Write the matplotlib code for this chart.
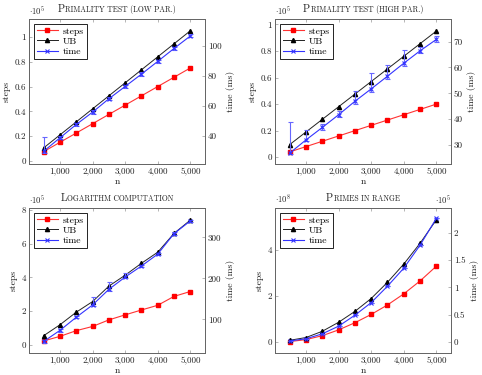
import matplotlib
matplotlib.use("Agg")
import matplotlib.pyplot as plt
from matplotlib.lines import Line2D
from matplotlib.offsetbox import TextArea, HPacker, AnchoredOffsetbox

plt.rcParams['font.family'] = 'cmr10'
plt.rcParams['mathtext.fontset'] = 'cm'
plt.rcParams['axes.formatter.use_mathtext'] = True

n = [500, 1000, 1500, 2000, 2500, 3000, 3500, 4000, 4500, 5000]
x_ticks = [1000, 2000, 3000, 4000, 5000]
x_tick_labels = ['1,000', '2,000', '3,000', '4,000', '5,000']

# primality test, low parallelism (steps/UB in 1e5, time in ms)
low_steps = [0.075, 0.15, 0.225, 0.30, 0.375, 0.45, 0.525, 0.60, 0.675, 0.75]
low_ub = [0.105, 0.21, 0.315, 0.42, 0.525, 0.63, 0.735, 0.84, 0.945, 1.05]
low_time = [30.0, 38.9, 47.8, 56.0, 64.9, 73.1, 81.3, 89.8, 98.4, 106.7]
low_err_lo = [1.0, 1.0, 1.0, 1.0, 1.0, 1.0, 1.0, 1.0, 1.2, 1.0]
low_err_hi = [9.3, 1.5, 1.0, 1.2, 1.0, 1.0, 1.5, 1.2, 1.2, 1.0]

# primality test, high parallelism (steps/UB in 1e5, time in ms)
high_steps = [0.04, 0.08, 0.12, 0.16, 0.20, 0.24, 0.28, 0.32, 0.36, 0.40]
high_ub = [0.095, 0.19, 0.285, 0.38, 0.475, 0.57, 0.665, 0.76, 0.855, 0.95]
high_time = [26.9, 32.0, 36.8, 41.7, 46.9, 51.7, 56.6, 61.6, 66.4, 70.8]
high_err_lo = [0.5, 0.5, 1.0, 1.0, 1.0, 1.0, 1.0, 1.0, 1.0, 1.0]
high_err_hi = [12.0, 3.8, 1.3, 1.3, 4.0, 6.3, 4.3, 5.0, 1.3, 1.2]

# logarithm computation (steps/UB in 1e5, time in ms)
log_steps = [0.22, 0.49, 0.83, 1.08, 1.47, 1.77, 2.06, 2.34, 2.87, 3.16]
log_ub = [0.53, 1.18, 1.93, 2.56, 3.48, 4.13, 4.84, 5.50, 6.62, 7.41]
log_time = [46, 73, 105, 135, 173, 203, 230, 259, 309, 340]
log_err_lo = [3, 3, 3, 3, 3, 3, 3, 3, 3, 3]
log_err_hi = [3, 3, 3, 20, 19, 11, 3, 3, 3, 3]

# primes in range (steps/UB in 1e8, time in 1e5 ms)
pr_steps = [0.014, 0.10, 0.27, 0.52, 0.83, 1.19, 1.60, 2.08, 2.64, 3.28]
pr_ub = [0.07, 0.19, 0.46, 0.85, 1.32, 1.88, 2.58, 3.37, 4.27, 5.29]
pr_time = [0.02, 0.06, 0.15, 0.29, 0.49, 0.72, 1.02, 1.35, 1.77, 2.26]
pr_err_lo = [0, 0, 0, 0, 0, 0, 0, 0, 0, 0]
pr_err_hi = [0, 0, 0, 0, 0, 0, 0, 0, 0, 0]

panels = [
    dict(title='Primality test (low par.)', steps=low_steps, ub=low_ub, time=low_time,
         err=(low_err_lo, low_err_hi), rect=[29, 19, 176, 145],
         ylim=(-0.025, 1.145), y2lim=(21.5, 118),
         yt=[0, 0.2, 0.4, 0.6, 0.8, 1], ytl=['0', '0.2', '0.4', '0.6', '0.8', '1'],
         y2t=[40, 60, 80, 100], y2tl=['40', '60', '80', '100'],
         mult=r'$\cdot 10^{5}$', mult2=None),
    dict(title='Primality test (high par.)', steps=high_steps, ub=high_ub, time=high_time,
         err=(high_err_lo, high_err_hi), rect=[275, 19, 176, 145],
         ylim=(-0.051, 1.041), y2lim=(22.7, 78.7),
         yt=[0, 0.2, 0.4, 0.6, 0.8, 1], ytl=['0', '0.2', '0.4', '0.6', '0.8', '1'],
         y2t=[30, 40, 50, 60, 70], y2tl=['30', '40', '50', '60', '70'],
         mult=r'$\cdot 10^{5}$', mult2=None),
    dict(title='Logarithm computation', steps=log_steps, ub=log_ub, time=log_time,
         err=(log_err_lo, log_err_hi), rect=[29, 208, 176, 145],
         ylim=(-0.5, 8.13), y2lim=(17.8, 371.5),
         yt=[0, 2, 4, 6, 8], ytl=['0', '2', '4', '6', '8'],
         y2t=[100, 200, 300], y2tl=['100', '200', '300'],
         mult=r'$\cdot 10^{5}$', mult2=None),
    dict(title='Primes in range', steps=pr_steps, ub=pr_ub, time=pr_time,
         err=(pr_err_lo, pr_err_hi), rect=[275, 208, 176, 145],
         ylim=(-0.48, 5.8), y2lim=(-0.2, 2.45),
         yt=[0, 2, 4], ytl=['0', '2', '4'],
         y2t=[0, 0.5, 1, 1.5, 2], y2tl=['0', '0.5', '1', '1.5', '2'],
         mult=r'$\cdot 10^{8}$', mult2=r'$\cdot 10^{5}$'),
]

W, H = 482, 375
fig = plt.figure(figsize=(W / 100, H / 100), dpi=100)

red = '#ff0000'
blue = '#3333ff'
frame = '#666666'
fs = 6.5

for p in panels:
    l, t, w, h = p['rect']
    ax = fig.add_axes([l / W, 1 - (t + h) / H, w / W, h / H])
    ax2 = ax.twinx()

    ax.plot(n, p['steps'], color='#ff3333', lw=0.8, marker='s', ms=3.4,
            mfc=red, mec=red, zorder=3)
    ax.plot(n, p['ub'], color='#222222', lw=0.7, marker='^', ms=3.0,
            mfc='black', mec='black', zorder=3)
    ax2.errorbar(n, p['time'], yerr=[p['err'][0], p['err'][1]], color=blue,
                 lw=0.8, marker='x', ms=2.6, mew=0.8, ecolor='#6666ff',
                 elinewidth=0.8, capsize=1.8, capthick=0.6)

    ax.set_xlim(50, 5450)
    ax.set_ylim(*p['ylim'])
    ax2.set_ylim(*p['y2lim'])
    ax.set_xticks(x_ticks, labels=x_tick_labels)
    ax.set_yticks(p['yt'], labels=p['ytl'])
    ax2.set_yticks(p['y2t'], labels=p['y2tl'])

    for a in (ax, ax2):
        for s in a.spines.values():
            s.set_color(frame)
            s.set_linewidth(0.7)
        a.tick_params(direction='in', length=2.5, width=0.5, color='#999999',
                      labelsize=fs, pad=2, labelcolor='#222222')
    ax.tick_params(axis='x', top=True)

    ax.set_xlabel('n', fontsize=fs + 0.5, labelpad=2, color='#222222')
    ax.set_ylabel('steps', fontsize=fs + 0.5, labelpad=3, color='#222222')
    ax2.set_ylabel('time (ms)', fontsize=fs + 0.5, labelpad=3, color='#222222')

    ax.text(0.0, 1.015, p['mult'], transform=ax.transAxes, ha='left', va='bottom',
            fontsize=fs - 0.3, color='#222222')
    if p['mult2']:
        ax.text(1.0, 1.015, p['mult2'], transform=ax.transAxes, ha='right', va='bottom',
                fontsize=fs - 0.3, color='#222222')

    handles = [
        Line2D([], [], color='#ff3333', lw=0.8, marker='s', ms=3.4, mfc=red, mec=red),
        Line2D([], [], color='#222222', lw=0.7, marker='^', ms=3.0, mfc='black', mec='black'),
        Line2D([], [], color=blue, lw=0.8, marker='x', ms=2.6, mew=0.8),
    ]
    leg = ax2.legend(handles, ['steps', 'UB', 'time'], loc='upper left', fontsize=fs + 0.5,
                     frameon=True, fancybox=False, framealpha=1, edgecolor='black',
                     handlelength=2.2, handletextpad=0.5, borderpad=0.3,
                     labelspacing=0.15, borderaxespad=0.5)
    leg.get_frame().set_linewidth(0.6)

    # small caps style title
    txt = p['title']
    big = TextArea(txt[0], textprops=dict(fontsize=7.5, family='cmr10', color='#222222'))
    small = TextArea(txt[1:].upper(), textprops=dict(fontsize=5.5, family='cmr10', color='#222222'))
    box = HPacker(children=[big, small], align='baseline', pad=0, sep=0.3)
    ab = AnchoredOffsetbox(loc='lower center', child=box, pad=0, borderpad=0, frameon=False,
                           bbox_to_anchor=(0.5, 1.035), bbox_transform=ax.transAxes)
    fig.add_artist(ab)

fig.savefig('out.png', dpi=100)
